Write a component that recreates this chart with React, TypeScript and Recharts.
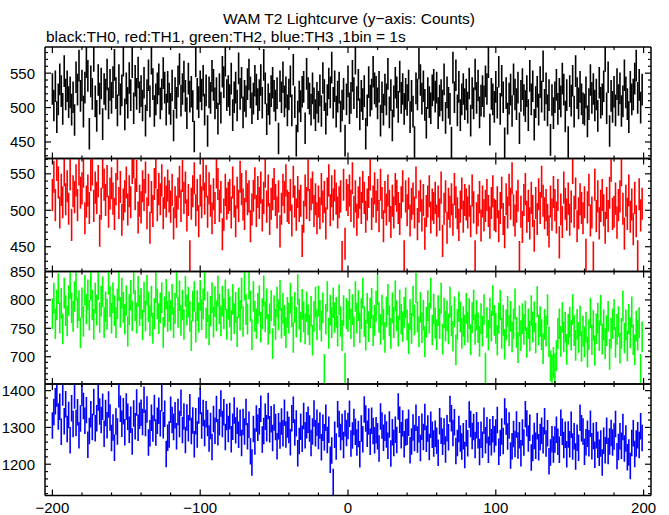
import React from 'react';
import { LineChart, Line, XAxis, YAxis, ErrorBar } from 'recharts';

// WAM T2 lightcurve, 1 bin = 1 s, starting at t = -200 s
const START_TIME = -200;
const HALF_BIN = 0.5;

// typical 1-sigma error bar per channel (counts)
const TH0_ERR = 23;
const TH1_ERR = 22;
const TH2_ERR = 27;
const TH3_ERR = 36;

// TH0 (black), counts per bin
const th0 = [
  527, 503, 531, 486, 512, 541, 524, 498, 553, 519, 531, 508, 522, 497, 515, 482, 544, 526, 561, 517,
  532, 494, 529, 566, 546, 462, 538, 520, 575, 509, 488, 540, 513, 535, 476, 527, 519, 548, 506, 533,
  514, 537, 562, 521, 496, 540, 512, 525, 568, 490, 528, 507, 543, 518, 566, 499, 539, 520, 551, 515,
  524, 503, 536, 481, 518, 547, 509, 571, 534, 495, 512, 528, 541, 506, 519, 550, 529, 497, 530, 513,
  498, 532, 474, 521, 507, 538, 556, 510, 527, 545, 517, 492, 542, 516, 523, 502, 458, 567, 520, 508,
  531, 519, 539, 497, 525, 466, 522, 514, 546, 533, 506, 521, 484, 527, 500, 552, 537, 568, 518, 524,
  511, 542, 489, 515, 529, 503, 557, 520, 536, 493, 517, 509, 534, 548, 522, 499, 513, 539, 526, 505,
  518, 540, 507, 562, 528, 483, 512, 498, 524, 536, 517, 503, 521, 455, 531, 515, 544, 509, 522, 496,
  519, 538, 496, 555, 508, 452, 487, 516, 502, 523, 530, 470, 549, 521, 513, 497, 528, 506, 489, 514,
  501, 525, 495, 543, 518, 484, 511, 535, 522, 558, 507, 531, 494, 516, 529, 487, 503, 520, 452, 512,
  538, 499, 514, 546, 521, 571, 508, 533, 490, 517, 505, 524, 462, 496, 537, 510, 519, 552, 528, 523,
  506, 530, 481, 515, 497, 526, 512, 549, 493, 518, 474, 509, 536, 522, 501, 545, 514, 527, 498, 520,
  511, 532, 486, 517, 494, 450, 528, 519, 564, 540, 513, 531, 504, 478, 521, 508, 499, 525, 533, 516,
  529, 492, 510, 518, 503, 541, 485, 522, 507, 498, 449, 558, 515, 547, 496, 530, 489, 512, 527, 505,
  519, 500, 535, 481, 521, 506, 548, 514, 532, 493, 510, 524, 509, 538, 527, 566, 468, 520, 512, 501,
  530, 507, 552, 498, 539, 515, 448, 521, 484, 513, 526, 495, 541, 519, 505, 529, 470, 517, 534, 511,
  502, 524, 489, 546, 512, 531, 475, 508, 523, 497, 537, 516, 560, 504, 528, 496, 518, 453, 511, 492,
  515, 533, 498, 520, 509, 542, 526, 487, 518, 450, 524, 510, 539, 494, 553, 521, 506, 530, 512, 499,
  497, 522, 480, 505, 540, 514, 527, 503, 519, 488, 536, 507, 512, 531, 575, 499, 544, 466, 517, 501,
  523, 496, 534, 511, 528, 495, 509, 547, 522, 505, 486, 530, 512, 519, 542, 561, 514, 533, 500, 526,
];

// TH1 (red)
const th1 = [
  521, 546, 507, 562, 538, 497, 528, 511, 555, 515, 533, 502, 549, 480, 526, 518, 541, 507, 556, 524,
  530, 553, 489, 512, 527, 503, 548, 556, 506, 531, 517, 540, 472, 509, 552, 535, 514, 540, 498, 523,
  537, 516, 495, 529, 563, 510, 532, 487, 508, 519, 538, 501, 526, 511, 558, 566, 522, 547, 490, 513,
  504, 533, 521, 545, 496, 528, 476, 518, 499, 536, 552, 507, 529, 515, 541, 496, 524, 512, 534, 519,
  505, 528, 482, 511, 498, 523, 539, 506, 547, 517, 531, 493, 514, 437, 509, 526, 544, 500, 521, 485,
  527, 511, 549, 516, 540, 498, 530, 513, 489, 522, 503, 552, 536, 506, 518, 467, 494, 528, 509, 517,
  521, 497, 538, 512, 485, 524, 506, 546, 529, 508, 495, 533, 515, 519, 478, 501, 520, 537, 499, 525,
  510, 531, 493, 517, 553, 505, 527, 488, 509, 522, 536, 514, 497, 519, 471, 502, 528, 518, 541, 506,
  503, 521, 486, 539, 512, 494, 525, 506, 513, 458, 491, 527, 510, 548, 507, 522, 531, 499, 515, 489,
  512, 496, 529, 505, 518, 482, 523, 541, 500, 526, 508, 534, 516, 497, 511, 519, 436, 535, 454, 521,
  514, 527, 506, 544, 498, 519, 487, 511, 524, 503, 532, 517, 491, 508, 525, 549, 495, 512, 530, 505,
  521, 492, 535, 510, 478, 518, 501, 527, 506, 484, 513, 497, 529, 520, 503, 488, 511, 533, 437, 519,
  500, 523, 486, 509, 516, 497, 538, 481, 505, 520, 493, 514, 468, 499, 512, 526, 490, 508, 503, 517,
  486, 512, 494, 531, 458, 502, 519, 476, 509, 498, 515, 487, 529, 511, 496, 480, 505, 523, 491, 514,
  508, 497, 513, 485, 527, 504, 437, 489, 500, 518, 479, 512, 493, 506, 521, 499, 483, 510, 526, 494,
  492, 511, 478, 503, 524, 488, 470, 515, 497, 528, 509, 544, 500, 486, 505, 520, 436, 498, 477, 514,
  529, 491, 506, 482, 517, 499, 465, 510, 488, 522, 503, 539, 513, 496, 507, 487, 471, 512, 494, 525,
  507, 490, 521, 456, 501, 484, 531, 509, 494, 516, 487, 505, 558, 498, 523, 478, 496, 515, 503, 489,
  511, 439, 504, 528, 486, 497, 435, 535, 492, 519, 482, 506, 521, 500, 476, 510, 492, 524, 561, 495,
  498, 516, 483, 507, 519, 555, 502, 468, 513, 495, 527, 491, 508, 474, 517, 485, 437, 522, 493, 509,
];

// TH2 (green)
const th2 = [
  776, 803, 758, 791, 820, 768, 794, 749, 812, 781, 763, 799, 828, 786, 771, 806, 826, 777, 790, 742,
  795, 762, 817, 784, 809, 773, 826, 791, 757, 803, 782, 827, 769, 798, 814, 760, 788, 775, 836, 797,
  768, 804, 781, 760, 793, 825, 778, 812, 787, 766, 799, 745, 783, 808, 772, 837, 790, 768, 815, 781,
  794, 756, 805, 772, 817, 788, 763, 798, 750, 776, 822, 793, 767, 786, 804, 743, 779, 810, 771, 788,
  773, 801, 760, 785, 831, 778, 807, 764, 791, 757, 815, 782, 796, 771, 737, 789, 806, 752, 790, 769,
  808, 774, 793, 826, 759, 788, 747, 780, 804, 761, 797, 772, 816, 784, 763, 798, 776, 809, 757, 792,
  779, 755, 801, 767, 787, 744, 795, 773, 812, 762, 826, 783, 766, 828, 789, 739, 806, 771, 758, 785,
  799, 752, 776, 816, 770, 793, 748, 767, 790, 723, 781, 757, 796, 774, 808, 759, 785, 764, 742, 778,
  768, 803, 779, 734, 787, 761, 818, 775, 752, 792, 770, 749, 788, 765, 747, 780, 729, 771, 796, 756,
  798, 773, 754, 786, 678, 766, 806, 741, 782, 760, 795, 769, 778, 745, 800, 762, 737, 781, 679, 776,
  771, 792, 758, 783, 744, 806, 768, 790, 751, 776, 812, 762, 738, 785, 753, 777, 794, 746, 764, 789,
  818, 769, 748, 782, 757, 734, 779, 801, 763, 741, 786, 760, 807, 772, 745, 791, 766, 753, 778, 795,
  756, 732, 774, 750, 798, 765, 821, 770, 744, 787, 751, 773, 726, 761, 790, 768, 812, 747, 784, 759,
  739, 781, 758, 803, 731, 777, 754, 772, 749, 796, 763, 736, 779, 712, 757, 788, 770, 741, 762, 747,
  785, 752, 776, 730, 769, 791, 748, 773, 751, 727, 767, 745, 783, 680, 760, 738, 777, 754, 799, 764,
  750, 729, 768, 791, 741, 764, 722, 756, 780, 746, 771, 735, 758, 793, 743, 716, 763, 737, 767, 748,
  772, 725, 758, 736, 781, 752, 770, 733, 797, 747, 762, 739, 714, 757, 745, 783, 726, 684, 677, 690,
  679, 702, 741, 758, 727, 769, 735, 752, 713, 748, 761, 738, 783, 746, 720, 757, 734, 763, 718, 745,
  726, 752, 708, 739, 777, 730, 755, 711, 749, 768, 737, 782, 731, 756, 723, 746, 771, 704, 741, 758,
  774, 725, 748, 762, 715, 741, 789, 733, 756, 719, 766, 742, 779, 730, 712, 754, 738, 760, 678, 735,
];

// TH3 (blue)
const th3 = [
  1305, 1342, 1371, 1392, 1330, 1356, 1288, 1395, 1317, 1363, 1296, 1334, 1265, 1352, 1309, 1387, 1312, 1341, 1279, 1324,
  1394, 1358, 1318, 1347, 1253, 1290, 1336, 1301, 1369, 1298, 1325, 1381, 1343, 1320, 1356, 1283, 1339, 1306, 1362, 1327,
  1271, 1300, 1245, 1316, 1289, 1390, 1351, 1310, 1344, 1287, 1357, 1329, 1294, 1321, 1262, 1338, 1303, 1368, 1299, 1332,
  1340, 1315, 1375, 1312, 1349, 1259, 1284, 1326, 1297, 1353, 1286, 1318, 1345, 1311, 1379, 1306, 1337, 1228, 1272, 1281,
  1348, 1320, 1301, 1333, 1276, 1342, 1309, 1367, 1293, 1330, 1266, 1327, 1298, 1355, 1290, 1319, 1254, 1317, 1281, 1346,
  1372, 1305, 1339, 1285, 1336, 1312, 1270, 1304, 1247, 1323, 1291, 1350, 1287, 1314, 1365, 1309, 1341, 1274, 1328, 1296,
  1331, 1268, 1302, 1346, 1292, 1318, 1280, 1313, 1258, 1315, 1289, 1342, 1276, 1307, 1235, 1205, 1296, 1262, 1324, 1299,
  1317, 1351, 1267, 1290, 1329, 1298, 1358, 1295, 1322, 1271, 1327, 1301, 1249, 1303, 1278, 1316, 1284, 1340, 1281, 1308,
  1293, 1260, 1325, 1348, 1286, 1311, 1230, 1263, 1302, 1269, 1331, 1279, 1306, 1321, 1297, 1258, 1289, 1338, 1284, 1313,
  1277, 1305, 1246, 1299, 1273, 1326, 1266, 1294, 1212, 1237, 1152, 1280, 1248, 1336, 1309, 1274, 1301, 1252, 1311, 1285,
  1304, 1337, 1256, 1278, 1315, 1288, 1259, 1282, 1227, 1297, 1268, 1349, 1324, 1283, 1316, 1261, 1318, 1290, 1265, 1292,
  1276, 1243, 1330, 1305, 1272, 1299, 1281, 1250, 1308, 1229, 1287, 1258, 1294, 1266, 1357, 1321, 1279, 1311, 1254, 1286,
  1288, 1313, 1238, 1262, 1300, 1271, 1326, 1267, 1295, 1244, 1302, 1274, 1328, 1269, 1297, 1247, 1307, 1280, 1256, 1283,
  1264, 1231, 1317, 1291, 1261, 1289, 1240, 1298, 1273, 1350, 1325, 1285, 1314, 1236, 1258, 1296, 1270, 1248, 1276, 1225,
  1284, 1257, 1335, 1309, 1277, 1301, 1252, 1306, 1279, 1233, 1280, 1253, 1318, 1265, 1292, 1239, 1287, 1260, 1295, 1268,
  1286, 1320, 1234, 1258, 1289, 1263, 1343, 1316, 1275, 1305, 1224, 1249, 1282, 1255, 1308, 1251, 1279, 1230, 1286, 1259,
  1336, 1311, 1270, 1299, 1218, 1244, 1277, 1250, 1303, 1246, 1274, 1291, 1265, 1317, 1256, 1284, 1208, 1232, 1268, 1240,
  1267, 1294, 1261, 1239, 1313, 1288, 1252, 1280, 1227, 1281, 1254, 1307, 1248, 1276, 1221, 1272, 1245, 1326, 1298, 1289,
  1234, 1260, 1283, 1257, 1310, 1249, 1277, 1226, 1279, 1253, 1231, 1256, 1205, 1264, 1238, 1291, 1236, 1262, 1285, 1259,
  1275, 1309, 1222, 1247, 1276, 1250, 1301, 1243, 1270, 1219, 1232, 1195, 1258, 1284, 1228, 1256, 1279, 1252, 1303, 1271,
];

const X_TICKS = [-200, -180, -160, -140, -120, -100, -80, -60, -40, -20, 0, 20, 40, 60, 80, 100, 120, 140, 160, 180, 200];
const X_LABELS = [-200, -100, 0, 100, 200];

const TH0_TICKS = [430, 440, 450, 460, 470, 480, 490, 500, 510, 520, 530, 540, 550, 560, 570, 580];
const TH1_TICKS = [420, 430, 440, 450, 460, 470, 480, 490, 500, 510, 520, 530, 540, 550, 560, 570];
const TH2_TICKS = [660, 670, 680, 690, 700, 710, 720, 730, 740, 750, 760, 770, 780, 790, 800, 810, 820, 830, 840, 850];
const TH3_TICKS = [1120, 1140, 1160, 1180, 1200, 1220, 1240, 1260, 1280, 1300, 1320, 1340, 1360, 1380, 1400];

const data = th0.map((v, i) => ({
  t: START_TIME + i,
  dt: HALF_BIN,
  th0: v,
  th1: th1[i],
  th2: th2[i],
  th3: th3[i],
  e0: TH0_ERR,
  e1: TH1_ERR,
  e2: TH2_ERR,
  e3: TH3_ERR,
}));

const W = 669;
const H = 515;
const PLOT_LEFT = 45;
const PLOT_RIGHT = 651;
const X_DOMAIN: [number, number] = [-205, 205];
const FONT = '"Liberation Sans", Arial, Helvetica, sans-serif';
const AXIS = { stroke: '#000', strokeWidth: 1.5 };

const fmt = (v: number) => (v < 0 ? `\u2212${-v}` : `${v}`);

const XTick = ({ x, y, payload, side, labels }: any) => {
  const major = payload.value % 100 === 0;
  const len = major ? 6 : 3;
  const dir = side === 'bottom' ? -1 : 1;
  return (
    <g>
      <line x1={x} y1={y} x2={x} y2={y + dir * len} stroke="#000" strokeWidth={1.2} />
      {labels && X_LABELS.includes(payload.value) && (
        <text x={x} y={y + 12} textAnchor="middle" dominantBaseline="central" fontSize={15} fontFamily={FONT} fill="#000">
          {fmt(payload.value)}
        </text>
      )}
    </g>
  );
};

const YTick = ({ x, y, payload, side, step }: any) => {
  const major = payload.value % step === 0;
  const len = major ? 6 : 3;
  const dir = side === 'left' ? 1 : -1;
  return (
    <g>
      <line x1={x} y1={y} x2={x + dir * len} y2={y} stroke="#000" strokeWidth={1.2} />
      {side === 'left' && major && (
        <text x={x - 10} y={y} textAnchor="end" dominantBaseline="central" fontSize={15} fontFamily={FONT} fill="#000">
          {payload.value}
        </text>
      )}
    </g>
  );
};

interface PanelProps {
  dataKey: string;
  errKey: string;
  color: string;
  top: number;
  bottom: number;
  domain: [number, number];
  ticks: number[];
  step: number;
  labels?: boolean;
}

// each panel: a clipped chart with the error-bar crosses, and a second chart on top with the frame and ticks
// (axes get a 1px thickness since recharts skips axes of zero size; margins make up for it)
const Panel = ({ dataKey, errKey, color, top, bottom, domain, ticks, step, labels }: PanelProps) => (
  <>
    <div
      style={{
        position: 'absolute',
        left: 0,
        top: 0,
        clipPath: `inset(${top}px ${W - PLOT_RIGHT}px ${H - bottom}px ${PLOT_LEFT}px)`,
      }}
    >
      <LineChart
        width={W}
        height={H}
        data={data}
        margin={{ top, bottom: H - bottom, left: PLOT_LEFT, right: W - PLOT_RIGHT }}
      >
        <XAxis dataKey="t" type="number" domain={X_DOMAIN} allowDataOverflow hide />
        <YAxis type="number" domain={domain} allowDataOverflow hide />
        <Line type="linear" dataKey={dataKey} stroke="none" dot={false} isAnimationActive={false}>
          <ErrorBar dataKey={errKey} direction="y" width={0} stroke={color} strokeWidth={1.6} isAnimationActive={false} />
          <ErrorBar dataKey="dt" direction="x" width={0} stroke={color} strokeWidth={1.6} isAnimationActive={false} />
        </Line>
      </LineChart>
    </div>
    <div style={{ position: 'absolute', left: 0, top: 0 }}>
      <LineChart
        width={W}
        height={H}
        data={data}
        margin={{ top: top - 1, bottom: H - bottom - 1, left: PLOT_LEFT - 1, right: W - PLOT_RIGHT - 1 }}
      >
        <XAxis
          xAxisId="b"
          dataKey="t"
          type="number"
          domain={X_DOMAIN}
          ticks={X_TICKS}
          interval={0}
          allowDataOverflow
          height={1}
          tickSize={0}
          tickMargin={0}
          axisLine={AXIS}
          tickLine={false}
          tick={(p: any) => <XTick {...p} side="bottom" labels={labels} />}
        />
        <XAxis
          xAxisId="t"
          orientation="top"
          dataKey="t"
          type="number"
          domain={X_DOMAIN}
          ticks={X_TICKS}
          interval={0}
          allowDataOverflow
          height={1}
          tickSize={0}
          tickMargin={0}
          axisLine={AXIS}
          tickLine={false}
          tick={(p: any) => <XTick {...p} side="top" />}
        />
        <YAxis
          yAxisId="l"
          type="number"
          domain={domain}
          ticks={ticks}
          interval={0}
          allowDataOverflow
          width={1}
          tickSize={0}
          tickMargin={0}
          axisLine={AXIS}
          tickLine={false}
          tick={(p: any) => <YTick {...p} side="left" step={step} />}
        />
        <YAxis
          yAxisId="r"
          orientation="right"
          type="number"
          domain={domain}
          ticks={ticks}
          interval={0}
          allowDataOverflow
          width={1}
          tickSize={0}
          tickMargin={0}
          axisLine={AXIS}
          tickLine={false}
          tick={(p: any) => <YTick {...p} side="right" step={step} />}
        />
      </LineChart>
    </div>
  </>
);

export default function App() {
  return (
    <div style={{ position: 'absolute', left: 0, top: 0, width: W, height: H, background: '#fff' }}>
      <svg width={W} height={H} style={{ position: 'absolute', left: 0, top: 0 }}>
        <text x={349} y={18} textAnchor="middle" dominantBaseline="central" fontSize={15.5} fontFamily={FONT} fill="#000">
          WAM T2 Lightcurve (y{'\u2212'}axis: Counts)
        </text>
        <text x={46} y={36} dominantBaseline="central" fontSize={15.5} fontFamily={FONT} fill="#000">
          black:TH0, red:TH1, green:TH2, blue:TH3 ,1bin = 1s
        </text>
      </svg>
      <Panel dataKey="th0" errKey="e0" color="#000000" top={47} bottom={158.5} domain={[426, 588]} ticks={TH0_TICKS} step={50} />
      <Panel dataKey="th1" errKey="e1" color="#ff0000" top={158.5} bottom={271.5} domain={[416, 571]} ticks={TH1_TICKS} step={50} />
      <Panel dataKey="th2" errKey="e2" color="#00ff00" top={271.5} bottom={384} domain={[652, 850]} ticks={TH2_TICKS} step={50} />
      <Panel dataKey="th3" errKey="e3" color="#0000ff" top={384} bottom={495.5} domain={[1115, 1418]} ticks={TH3_TICKS} step={100} labels />
    </div>
  );
}
